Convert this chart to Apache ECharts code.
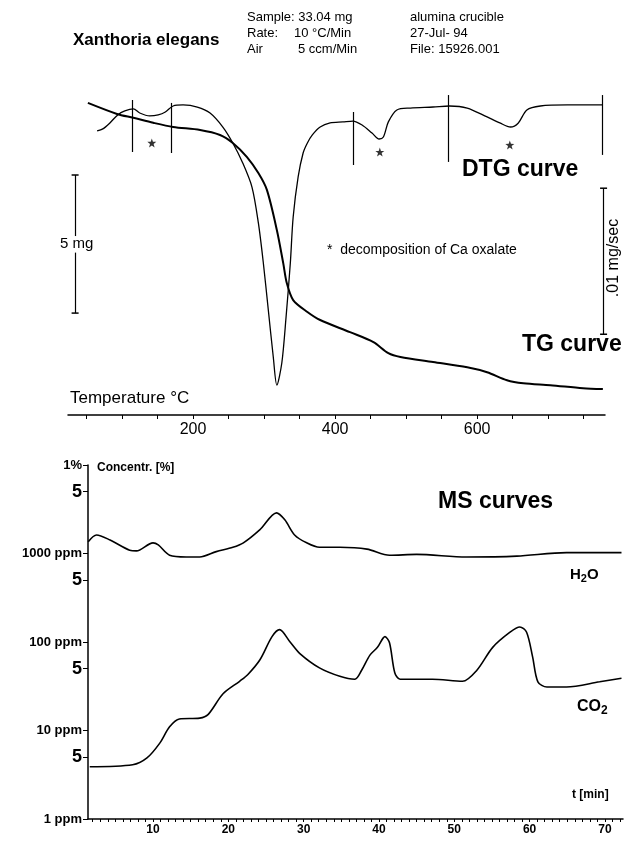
<!DOCTYPE html>
<html>
<head>
<meta charset="utf-8">
<script src="https://cdn.jsdelivr.net/npm/echarts@6/dist/echarts.min.js"></script>
<style>
  html, body { margin: 0; padding: 0; background: #fff; }
  #chart { width: 634px; height: 841px; }
</style>
</head>
<body>
<div id="chart"></div>
<script>
// TG curve: temperature (°C) / sample mass (mg)
const tgTemp = [52, 93, 116, 144, 172, 210, 238, 256, 276, 292, 304, 318, 327, 332, 341, 361, 379, 421, 454, 475, 492, 538, 586, 614, 642, 665, 703, 749, 777]
const tgMass = [33.04, 32.64, 32.50, 32.32, 32.17, 32.06, 31.88, 31.59, 31.08, 30.50, 29.89, 28.44, 27.24, 26.52, 25.90, 25.47, 25.18, 24.74, 24.38, 23.98, 23.84, 23.66, 23.47, 23.29, 23.00, 22.89, 22.82, 22.71, 22.68]

// DTG curve: temperature (°C) / mass rate (mg/sec)
const dtgTemp = [65, 73, 83, 94, 104, 116, 125, 139, 151, 161, 172, 186, 206, 224, 242, 256, 270, 283, 292, 299, 306, 313, 318, 325, 331, 337, 341, 348, 355, 361, 368, 379, 393, 411, 425, 438, 452, 462, 468, 475, 487, 506, 538, 561, 586, 614, 632, 647, 658, 670, 689, 727, 776]
const dtgRate = [-0.00178, -0.00164, -0.00123, -0.00068, -0.00041, -0.00027, -0.00055, -0.00075, -0.00068, -0.00048, -0.00007, 0, -0.00014, -0.00055, -0.00151, -0.0026, -0.00397, -0.00562, -0.00808, -0.01082, -0.01404, -0.01726, -0.01918, -0.01767, -0.01452, -0.01082, -0.00767, -0.00493, -0.00329, -0.0026, -0.00205, -0.00151, -0.00123, -0.00116, -0.0011, -0.00137, -0.00192, -0.00233, -0.00219, -0.00116, -0.00034, -0.00021, -0.00014, -0.00007, -0.00021, -0.00082, -0.00123, -0.00151, -0.00123, -0.00034, -0.00007, 0, 0]

// DTG integration limits (°C) and their vertical extent (mg/sec)
const limitTemp = [115, 170, 425, 560, 776]
const limitTop = [0.00034, 0.00014, -0.00048, 0.00068, 0.00068]
const limitBottom = [-0.00322, -0.00329, -0.00411, -0.0039, -0.00342]

// Ca oxalate steps marked with a star
const starTemp = [142, 463, 646]
const starRate = [-0.0026, -0.00322, -0.00274]

// MS curves: time (min) / concentration (ppm)
const h2oTime = [1.4, 2.5, 4.3, 6.9, 7.8, 10, 10.7, 12.2, 14.4, 16.2, 18.4, 20.6, 22, 24.2, 26.4, 27.5, 28.8, 30.4, 32.1, 34.8, 38.4, 41.4, 45, 51.6, 58.3, 64.9, 72.2]
const h2oPpm = [1360, 1620, 1420, 1090, 1070, 1320, 1250, 955, 912, 912, 1050, 1175, 1320, 1860, 2880, 2400, 1620, 1320, 1175, 1175, 1120, 955, 977, 912, 933, 1023, 1023]
const co2Time = [1.6, 7.3, 9.2, 10.9, 12.2, 13.5, 16.2, 17.3, 19.3, 21.5, 22.6, 24.2, 25.8, 26.8, 28.2, 29.5, 32.1, 34.8, 36.8, 37.7, 38.8, 39.8, 40.8, 41.4, 42.1, 42.8, 47.1, 51.1, 53, 55.1, 57.4, 58.7, 59.6, 60.4, 61.1, 62.3, 64.9, 69.3, 72.2]
const co2Ppm = [3.9, 4.1, 4.9, 7.2, 11, 13.5, 13.8, 15.1, 26, 36, 43, 63, 115, 138, 100, 74, 51, 41, 38, 48, 71, 87, 115, 98, 45, 38, 38, 36, 48, 87, 129, 148, 129, 68, 35.5, 31, 31, 35.5, 39]

// tick labels
const tempLabels = [200, 400, 600]
const tempTicks = [50, 100, 150, 200, 250, 300, 350, 400, 450, 500, 550, 600, 650, 700, 750]
const timeLabels = [10, 20, 30, 40, 50, 60, 70]
const timeTicks = []
for (let i = 2; i <= 72; i++) timeTicks.push(i)
const ppmLabels = [1, 5, 10, 50, 100, 500, 1000, 5000, 10000]
const ppmText = {1: '1 ppm', 5: '5', 10: '10 ppm', 50: '5', 100: '100 ppm', 500: '5', 1000: '1000 ppm', 5000: '5', 10000: '1%'}

const FONT = '"Liberation Sans", Arial, Helvetica, sans-serif'
const pair = (xs, ys) => xs.map((x, i) => [x, ys[i]])

const txt = (x, y, text, size, bold, extra) => Object.assign({
  type: 'text', x: x, y: y, silent: true,
  style: Object.assign({
    text: text, fontSize: size, fontWeight: bold ? 'bold' : 'normal',
    fontFamily: FONT, fill: '#000', textVerticalAlign: 'middle'
  }, extra || {})
})

const chart = echarts.init(document.getElementById('chart'), null, {renderer: 'canvas'})

const limitLines = limitTemp.map((t, i) => [{coord: [t, limitTop[i]]}, {coord: [t, limitBottom[i]]}])
const cap = {symbol: 'rect', symbolSize: [7, 1.5]}

const option = {
  backgroundColor: '#fff',
  animation: false,
  grid: [
    {left: 68, right: 29, top: 80, bottom: 426},
    {left: 88, right: 11, top: 465, bottom: 22}
  ],
  xAxis: [
    {
      type: 'value', gridIndex: 0, min: 24, max: 780,
      axisLine: {onZero: false, lineStyle: {color: '#000', width: 1.5}},
      axisTick: {customValues: tempTicks, length: 4, lineStyle: {color: '#000'}},
      axisLabel: {customValues: tempLabels, color: '#000', fontSize: 16, fontFamily: FONT, margin: 7},
      splitLine: {show: false}
    },
    {
      type: 'value', gridIndex: 1, min: 1.37, max: 72.4,
      axisLine: {onZero: false, lineStyle: {color: '#000', width: 1.5}},
      axisTick: {customValues: timeTicks, length: 3, lineStyle: {color: '#000'}},
      axisLabel: {customValues: timeLabels, color: '#000', fontSize: 12, fontWeight: 'bold', fontFamily: FONT, margin: 5},
      splitLine: {show: false}
    }
  ],
  yAxis: [
    {type: 'value', gridIndex: 0, min: 21.74, max: 33.87, show: false},
    {type: 'value', gridIndex: 0, min: -0.02123, max: 0.00171, show: false},
    {
      type: 'log', gridIndex: 1, min: 1, max: 10000, logBase: 10,
      axisLine: {show: true, onZero: false, lineStyle: {color: '#000', width: 1.5}},
      axisTick: {show: true, customValues: ppmLabels, length: 5, lineStyle: {color: '#000'}},
      axisLabel: {
        customValues: ppmLabels, color: '#000', margin: 6,
        formatter: v => {
          const s = ppmText[Math.round(v)] || ''
          return s === '5' ? '{b|5}' : '{a|' + s + '}'
        },
        rich: {
          a: {fontSize: 13, fontWeight: 'bold', fontFamily: FONT, color: '#000'},
          b: {fontSize: 18, fontWeight: 'bold', fontFamily: FONT, color: '#000'}
        }
      },
      splitLine: {show: false}
    }
  ],
  series: [
    {
      name: 'TG curve', type: 'line', xAxisIndex: 0, yAxisIndex: 0,
      data: pair(tgTemp, tgMass), smooth: 0.3, symbol: 'none',
      lineStyle: {color: '#000', width: 2},
      markLine: {
        silent: true, symbol: 'none', label: {show: false},
        lineStyle: {color: '#000', width: 1.2, type: 'solid'},
        // 5 mg scale bar, broken around its label
        data: [
          [Object.assign({coord: [34, 30.43]}, cap), {coord: [34, 28.22], symbol: 'none'}],
          [{coord: [34, 27.62], symbol: 'none'}, Object.assign({coord: [34, 25.43]}, cap)]
        ]
      }
    },
    {
      name: 'DTG curve', type: 'line', xAxisIndex: 0, yAxisIndex: 1,
      data: pair(dtgTemp, dtgRate), smooth: 0.3, symbol: 'none',
      lineStyle: {color: '#000', width: 1.3},
      markLine: {
        silent: true, symbol: 'none', label: {show: false},
        lineStyle: {color: '#000', width: 1.2, type: 'solid'},
        // integration limits + .01 mg/sec scale bar
        data: limitLines.concat([
          [Object.assign({coord: [778, -0.0057]}, cap), Object.assign({coord: [778, -0.0157]}, cap)]
        ])
      }
    },
    {
      name: 'Ca oxalate', type: 'scatter', xAxisIndex: 0, yAxisIndex: 1,
      data: pair(starTemp, starRate),
      symbol: 'path://M0,-10 L2.4,-3.2 L9.5,-3.1 L3.8,1.2 L5.9,8.1 L0,4 L-5.9,8.1 L-3.8,1.2 L-9.5,-3.1 L-2.4,-3.2 Z',
      symbolSize: 9, itemStyle: {color: '#000'}, silent: true
    },
    {
      name: 'H2O', type: 'line', xAxisIndex: 1, yAxisIndex: 2,
      data: pair(h2oTime, h2oPpm), smooth: 0.3, symbol: 'none',
      lineStyle: {color: '#000', width: 1.6}
    },
    {
      name: 'CO2', type: 'line', xAxisIndex: 1, yAxisIndex: 2,
      data: pair(co2Time, co2Ppm), smooth: 0.3, symbol: 'none',
      lineStyle: {color: '#000', width: 1.6}
    }
  ],
  graphic: [
    txt(73, 40, 'Xanthoria elegans', 17, true),
    txt(247, 17, 'Sample: 33.04 mg', 13),
    txt(247, 33, 'Rate:', 13), txt(294, 33, '10 °C/Min', 13),
    txt(247, 49, 'Air', 13), txt(298, 49, '5 ccm/Min', 13),
    txt(410, 17, 'alumina crucible', 13),
    txt(410, 33, '27-Jul- 94', 13),
    txt(410, 49, 'File: 15926.001', 13),
    txt(60, 244, '5 mg', 15),
    txt(327, 250, '*  decomposition of Ca oxalate', 14),
    txt(462, 170, 'DTG curve', 23, true),
    txt(522, 345, 'TG curve', 23, true),
    Object.assign(txt(614, 258, '.01 mg/sec', 16, false, {textAlign: 'center'}), {rotation: Math.PI / 2}),
    txt(70, 398, 'Temperature °C', 17),
    txt(97, 468, 'Concentr. [%]', 12, true),
    txt(438, 502, 'MS curves', 23, true),
    txt(570, 575, '{n|H}{s|2}{n|O}', 15, true, {rich: {
      n: {fontSize: 15, fontWeight: 'bold', fontFamily: FONT, fill: '#000'},
      s: {fontSize: 11, fontWeight: 'bold', fontFamily: FONT, fill: '#000', padding: [8, 0, 0, 0]}
    }}),
    txt(577, 707, '{n|CO}{s|2}', 16, true, {rich: {
      n: {fontSize: 16, fontWeight: 'bold', fontFamily: FONT, fill: '#000'},
      s: {fontSize: 12, fontWeight: 'bold', fontFamily: FONT, fill: '#000', padding: [8, 0, 0, 0]}
    }}),
    txt(572, 795, 't [min]', 12, true)
  ]
}

chart.setOption(option)
</script>
</body>
</html>
